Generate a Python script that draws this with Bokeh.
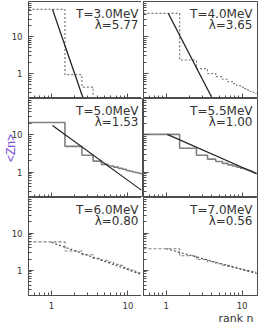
import math
from bokeh.plotting import figure
from bokeh.layouts import gridplot
from bokeh.models import Label, Title, FixedTicker, PrintfTickFormatter, Range1d
from bokeh.embed import file_html
from bokeh.resources import INLINE

# ---- data ----
temps = ["3.0", "4.0", "5.0", "5.5", "6.0", "7.0"]
lambdas = ["5.77", "3.65", "1.53", "1.00", "0.80", "0.56"]

zn_t30 = [55, 0.93, 0.43, 0.1]
zn_t40 = [43, 2.33, 1.35, 1.0, 0.82, 0.7, 0.6, 0.53, 0.47, 0.43, 0.39, 0.36, 0.33, 0.31, 0.29]
zn_t50 = [20.7, 4.8, 2.8, 1.95, 1.6, 1.45, 1.35, 1.25, 1.18, 1.1, 1.05, 1.0, 0.97, 0.94, 0.9]
zn_t55 = [10, 4.3, 2.8, 2.2, 1.9, 1.7, 1.55, 1.45, 1.35, 1.27, 1.2, 1.13, 1.07, 1.0, 0.95]
zn_t60 = [5.8, 3.3, 2.6, 2.1, 1.85, 1.65, 1.45, 1.35, 1.2, 1.1, 1.02, 0.96, 0.91, 0.86, 0.82]
zn_t70 = [3.8, 2.45, 1.95, 1.7, 1.5, 1.37, 1.27, 1.2, 1.12, 1.06, 1.01, 0.98, 0.95, 0.92, 0.9]

fit_x_t30 = [1.03, 2.56]
fit_y_t30 = [55, 0.23]
fit_x_t40 = [1.06, 3.96]
fit_y_t40 = [43, 0.23]
fit_x_t50 = [1.03, 15.0]
fit_y_t50 = [17.2, 0.33]
fit_x_t55 = [1.03, 15.6]
fit_y_t55 = [10, 0.9]
fit_x_t60 = [1.0, 15.6]
fit_y_t60 = [5.6, 0.75]
fit_x_t70 = [1.0, 15.6]
fit_y_t70 = [3.8, 0.82]

x_ticks = [1, 10]
y_ticks = [1, 10]
y_title = "<Zn>"
x_title = "rank n"

X_LO, X_HI = 0.5, 16
Y_LO, Y_HI = 0.21, 90

FONT = "DejaVu Sans"
AX = "#4d4d4d"

series = [zn_t30, zn_t40, zn_t50, zn_t55, zn_t60, zn_t70]
fits = [(fit_x_t30, fit_y_t30), (fit_x_t40, fit_y_t40), (fit_x_t50, fit_y_t50),
        (fit_x_t55, fit_y_t55), (fit_x_t60, fit_y_t60), (fit_x_t70, fit_y_t70)]

x_minor = [0.5, 0.6, 0.7, 0.8, 0.9] + list(range(2, 10))
y_minor = [0.3, 0.4, 0.5, 0.6, 0.7, 0.8, 0.9] + list(range(2, 10)) + list(range(20, 100, 10))


def hide_labels(ax, ticks):
    ax.major_label_overrides = {t: "" for t in ticks}
    ax.major_label_text_font_size = "0px"
    ax.major_label_standoff = 0


def make_panel(i):
    row, col = divmod(i, 2)
    left = col == 0
    bottom = row == 2
    fw = 115 if left else 114
    fh = [97, 99, 98][row]
    p = figure(frame_width=fw, frame_height=fh,
               x_axis_type="log", y_axis_type="log",
               x_range=Range1d(X_LO, X_HI), y_range=Range1d(Y_LO, Y_HI),
               output_backend="svg", toolbar_location=None,
               min_border_left=26 if left else 0,
               min_border_right=0 if left else 4,
               min_border_top=1 if row == 0 else 0,
               min_border_bottom=30 if bottom else 0)
    p.xgrid.visible = False
    p.ygrid.visible = False
    p.outline_line_color = AX
    p.outline_line_width = 1
    p.background_fill_color = "white"
    p.border_fill_color = "white"

    p.xaxis.ticker = FixedTicker(ticks=x_ticks, minor_ticks=x_minor)
    p.yaxis.ticker = FixedTicker(ticks=y_ticks, minor_ticks=y_minor)
    for ax in (p.xaxis[0], p.yaxis[0]):
        ax.formatter = PrintfTickFormatter(format="%d")
        ax.axis_line_color = AX
        ax.major_tick_line_color = AX
        ax.minor_tick_line_color = AX
        ax.major_tick_in = 5
        ax.major_tick_out = 0
        ax.minor_tick_in = 3
        ax.minor_tick_out = 0
        ax.major_label_text_font = FONT
        ax.major_label_text_font_size = "8.5px"
        ax.major_label_text_color = "#333333"
    if left:
        p.yaxis.major_label_standoff = 6
    else:
        hide_labels(p.yaxis[0], y_ticks)
    if bottom:
        p.xaxis.major_label_standoff = 6
    else:
        hide_labels(p.xaxis[0], x_ticks)

    if i == 2:
        ya = p.yaxis[0]
        ya.axis_label = y_title
        ya.axis_label_standoff = -9
        ya.axis_label_text_font = "Liberation Sans"
        ya.axis_label_text_font_size = "12px"
        ya.axis_label_text_font_style = "normal"
        ya.axis_label_text_color = "#7B4BDB"
    if i == 5:
        p.add_layout(Title(text=x_title, align="right", offset=4, standoff=-4,
                           text_font=FONT, text_font_size="11px",
                           text_font_style="normal", text_color="#333333"), "below")

    zn = series[i]
    ranks = list(range(1, len(zn) + 1))
    edges = [r - 0.5 for r in ranks] + [ranks[-1] + 0.5]
    vals = zn + [zn[-1]]
    fx, fy = fits[i]
    if row == 0:
        p.step(edges, vals, mode="after", line_color="#777777", line_width=1.2, line_dash="2 2")
        p.line(fx, fy, line_color="#222222", line_width=1.3)
    elif row == 1:
        p.step(edges, vals, mode="after", line_color="#808080", line_width=1.6)
        p.line(fx, fy, line_color="#222222", line_width=1.2)
    else:
        p.step(edges, vals, mode="after", line_color="#808080", line_width=1.1, line_dash="3 2")
        p.line(fx, fy, line_color="#444444", line_width=1.1, line_dash="2 2")

    p.add_layout(Label(x=X_HI, y=Y_HI, x_offset=-5, y_offset=-5,
                       text="T=" + temps[i] + "MeV", text_align="right", text_baseline="top",
                       text_font=FONT, text_font_size="12px", text_color="#333333"))
    p.add_layout(Label(x=X_HI, y=Y_HI, x_offset=-5, y_offset=-16,
                       text="\u03bb=" + lambdas[i], text_align="right", text_baseline="top",
                       text_font=FONT, text_font_size="12px", text_color="#333333"))
    return p


panels = [make_panel(i) for i in range(6)]
grid = gridplot([[panels[0], panels[1]], [panels[2], panels[3]], [panels[4], panels[5]]],
                toolbar_location=None)

open("out.html", "w").write(file_html(grid, INLINE))
